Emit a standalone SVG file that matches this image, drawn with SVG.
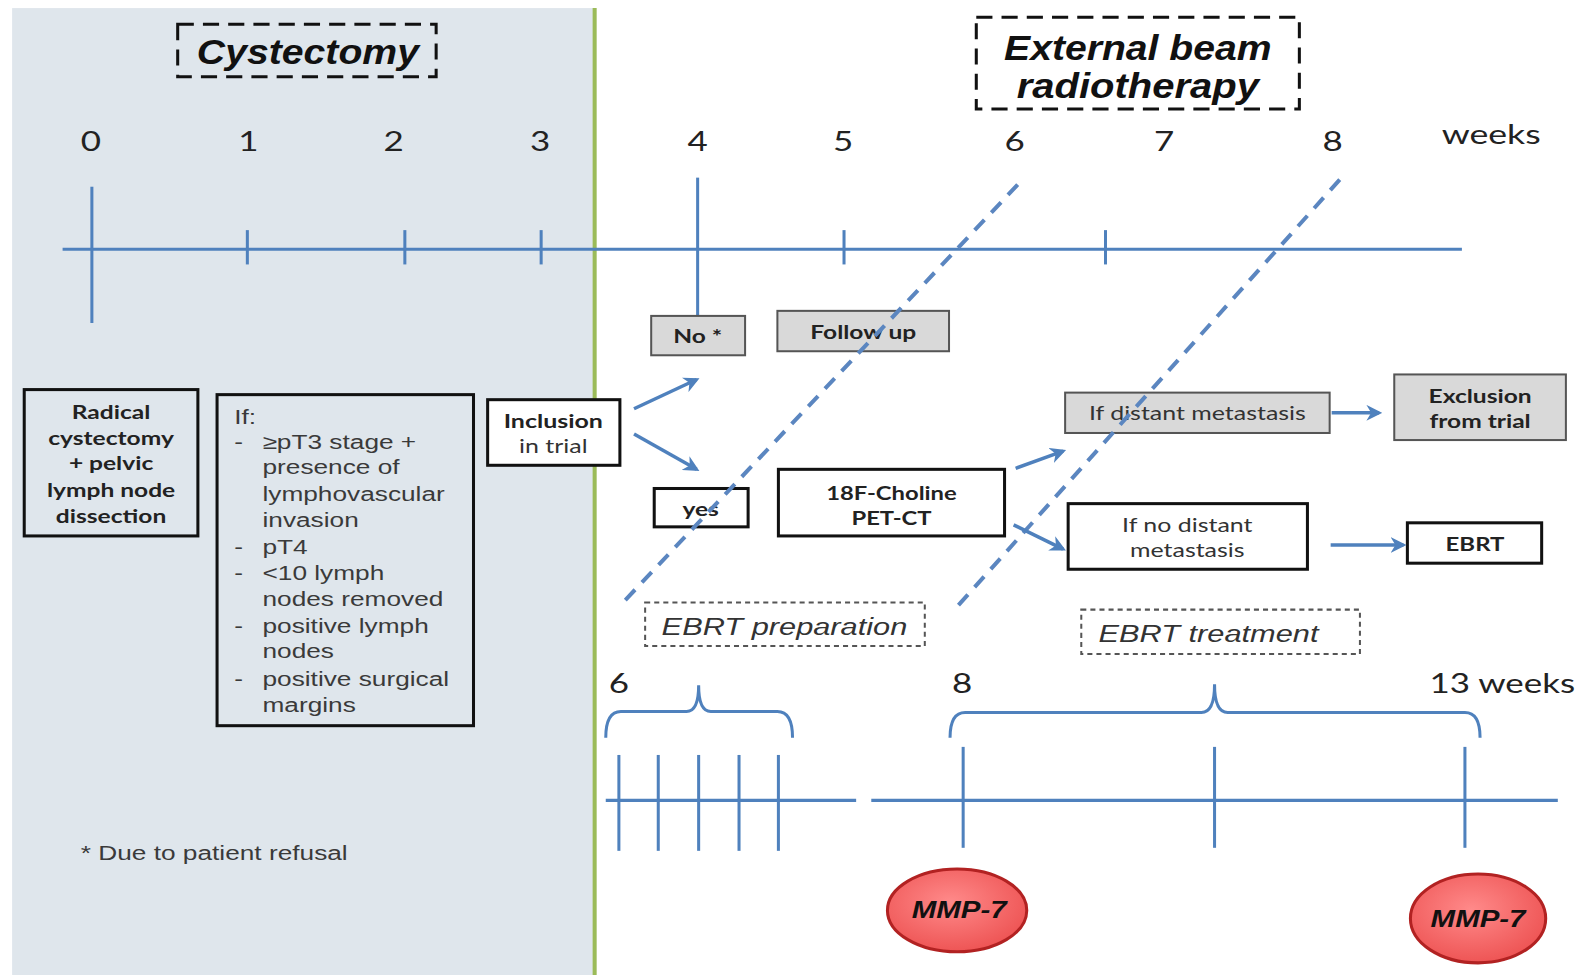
<svg xmlns="http://www.w3.org/2000/svg" width="1583" height="977" viewBox="0 0 1583 977">
<defs>
<style>
.tl{stroke:#4f81bd;stroke-width:3;fill:none}
.dash{stroke:#5b86c0;stroke-width:4;stroke-dasharray:14 10;fill:none}
.arr{stroke:#4f81bd;stroke-width:3.5;fill:none;marker-end:url(#ah)}
.gbox{fill:#d9d9d9;stroke:#555;stroke-width:2}
.wbox{fill:#fff;stroke:#111;stroke-width:3}
.tbox{fill:none;stroke:#111;stroke-width:3}
.dbox{fill:none;stroke:#111;stroke-width:3;stroke-dasharray:16 9}
.dbox2{fill:none;stroke:#555;stroke-width:2;stroke-dasharray:5 4}
.num{font-family:Lato,"Open Sans",sans-serif;font-size:26px;fill:#222;text-anchor:middle}
.bt{font-family:Lato,"Open Sans",sans-serif;font-size:19px;font-weight:bold;fill:#222;text-anchor:middle}
.nt{font-family:Lato,"Open Sans",sans-serif;font-size:19px;fill:#333;text-anchor:middle}
.lt{font-family:"Liberation Sans",Arial,sans-serif;font-size:20px;fill:#3a3a3a}
.it{font-family:"Liberation Sans",Arial,sans-serif;font-size:24px;font-style:italic;fill:#333;text-anchor:middle}
.ttl{font-family:"Liberation Sans",Arial,sans-serif;font-size:34px;font-style:italic;font-weight:bold;fill:#111;text-anchor:middle}
.mmp{font-family:"Liberation Sans",Arial,sans-serif;font-size:23px;font-style:italic;font-weight:bold;fill:#111;text-anchor:middle}
</style>
<marker id="ah" viewBox="0 0 10 10" refX="8" refY="5" markerWidth="4.5" markerHeight="4.5" orient="auto" markerUnits="strokeWidth">
<path d="M0,0 L10,5 L0,10 L3,5 z" fill="#4f81bd"/>
</marker>
<radialGradient id="rg" cx="45%" cy="40%" r="60%">
<stop offset="0" stop-color="#ff8a8a"/>
<stop offset="1" stop-color="#ee5555"/>
</radialGradient>
</defs>
<rect width="1583" height="977" fill="#fff"/>
<g transform="scale(1.0096,1.0093)">
<g id="background">
<rect x="12" y="8" width="576" height="958" fill="#dfe6ec"/>
<line x1="589" y1="8" x2="589" y2="966" stroke="#9bbb59" stroke-width="4"/>
</g>
<g id="title-cystectomy">
<rect class="dbox" x="176" y="24" width="256" height="52"/>
<text class="ttl" x="305" y="63" textLength="220" lengthAdjust="spacingAndGlyphs">Cystectomy</text>
</g>
<g id="title-ebrt">
<rect class="dbox" x="967" y="17" width="320" height="91"/>
<text class="ttl" x="1127" y="59" textLength="265" lengthAdjust="spacingAndGlyphs">External beam</text>
<text class="ttl" x="1127" y="97" textLength="240" lengthAdjust="spacingAndGlyphs">radiotherapy</text>
</g>
<g id="week-labels">
<text class="num" transform="translate(90,0) scale(1.33,1)" x="0" y="150">0</text>
<text class="num" transform="translate(246,0) scale(1.33,1)" x="0" y="150">1</text>
<text class="num" transform="translate(390,0) scale(1.33,1)" x="0" y="150">2</text>
<text class="num" transform="translate(535,0) scale(1.33,1)" x="0" y="150">3</text>
<text class="num" transform="translate(691,0) scale(1.33,1)" x="0" y="150">4</text>
<text class="num" transform="translate(835,0) scale(1.33,1)" x="0" y="150">5</text>
<text class="num" transform="translate(1005,0) scale(1.33,1)" x="0" y="150">6</text>
<text class="num" transform="translate(1153,0) scale(1.33,1)" x="0" y="150">7</text>
<text class="num" transform="translate(1320,0) scale(1.33,1)" x="0" y="150">8</text>
<text class="num" transform="translate(1477,0) scale(1.36,1)" x="0" y="143">weeks</text>
</g>
<g id="timeline-main">
<line class="tl" x1="62" y1="247" x2="1448" y2="247"/>
<line class="tl" x1="91" y1="185" x2="91" y2="320"/>
<line class="tl" x1="245" y1="228" x2="245" y2="262"/>
<line class="tl" x1="401" y1="228" x2="401" y2="262"/>
<line class="tl" x1="536" y1="228" x2="536" y2="262"/>
<line class="tl" x1="691" y1="176" x2="691" y2="322"/>
<line class="tl" x1="836" y1="228" x2="836" y2="262"/>
<line class="tl" x1="1095" y1="228" x2="1095" y2="262"/>
</g>
<g id="node-radical">
<rect class="tbox" x="24" y="386" width="172" height="145"/>
<g transform="translate(110,0) scale(1.28,1)">
<text class="bt" x="0" y="415">Radical</text>
<text class="bt" x="0" y="441">cystectomy</text>
<text class="bt" x="0" y="466">+ pelvic</text>
<text class="bt" x="0" y="492">lymph node</text>
<text class="bt" x="0" y="518">dissection</text>
</g>
</g>
<g id="node-criteria">
<rect class="tbox" x="215" y="391" width="254" height="328"/>
<g transform="translate(215,0) scale(1.3,1)">
<text class="lt" x="13" y="420">If:</text>
<text class="lt" x="13" y="445">-</text><text class="lt" x="34.6" y="445">≥pT3 stage +</text>
<text class="lt" x="34.6" y="470">presence of</text>
<text class="lt" x="34.6" y="496">lymphovascular</text>
<text class="lt" x="34.6" y="522">invasion</text>
<text class="lt" x="13" y="549">-</text><text class="lt" x="34.6" y="549">pT4</text>
<text class="lt" x="13" y="575">-</text><text class="lt" x="34.6" y="575">&lt;10 lymph</text>
<text class="lt" x="34.6" y="600">nodes removed</text>
<text class="lt" x="13" y="627">-</text><text class="lt" x="34.6" y="627">positive lymph</text>
<text class="lt" x="34.6" y="652">nodes</text>
<text class="lt" x="13" y="680">-</text><text class="lt" x="34.6" y="680">positive surgical</text>
<text class="lt" x="34.6" y="705">margins</text>
</g>
</g>
<g id="node-inclusion">
<rect class="wbox" x="483" y="396" width="131" height="65"/>
<g transform="translate(548,0) scale(1.3,1)">
<text class="bt" x="0" y="424">Inclusion</text>
<text class="nt" x="0" y="449">in trial</text>
</g>
</g>
<g id="node-no">
<rect class="gbox" x="645" y="313" width="93" height="39"/>
<text class="bt" transform="translate(691,0) scale(1.28,1)" x="0" y="340">No *</text>
</g>
<g id="node-followup">
<rect class="gbox" x="770" y="308" width="170" height="40"/>
<text class="bt" transform="translate(855,0) scale(1.28,1)" x="0" y="336">Follow up</text>
</g>
<g id="node-yes">
<rect class="wbox" x="648" y="484" width="93" height="38"/>
<text class="bt" transform="translate(694,0) scale(1.28,1)" x="0" y="511">yes</text>
</g>
<g id="node-pet">
<rect class="wbox" x="771" y="465" width="224" height="66"/>
<g transform="translate(883,0) scale(1.24,1)">
<text class="bt" x="0" y="495">18F-Choline</text>
<text class="bt" x="0" y="520">PET-CT</text>
</g>
</g>
<g id="node-distant">
<rect class="gbox" x="1055" y="389" width="262" height="40"/>
<text class="nt" transform="translate(1186,0) scale(1.3,1)" x="0" y="416">If distant metastasis</text>
</g>
<g id="node-exclusion">
<rect class="gbox" x="1381" y="371" width="170" height="65"/>
<g transform="translate(1466,0) scale(1.28,1)">
<text class="bt" x="0" y="399">Exclusion</text>
<text class="bt" x="0" y="424">from trial</text>
</g>
</g>
<g id="node-nodistant">
<rect class="wbox" x="1058" y="499" width="237" height="65"/>
<g transform="translate(1176,0) scale(1.3,1)">
<text class="nt" x="0" y="527">If no distant</text>
<text class="nt" x="0" y="552">metastasis</text>
</g>
</g>
<g id="node-ebrt">
<rect class="wbox" x="1394" y="518" width="133" height="40"/>
<text class="bt" transform="translate(1461,0) scale(1.25,1)" x="0" y="546">EBRT</text>
</g>
<g id="label-prep">
<rect class="dbox2" x="639" y="597" width="277" height="43"/>
<text class="it" transform="translate(777,0) scale(1.27,1)" x="0" y="629">EBRT preparation</text>
</g>
<g id="label-treat">
<rect class="dbox2" x="1071" y="604" width="276" height="44"/>
<text class="it" transform="translate(1197,0) scale(1.27,1)" x="0" y="636">EBRT treatment</text>
</g>
<g id="bottom-labels">
<text class="num" transform="translate(613,0) scale(1.33,1)" x="0" y="687">6</text>
<text class="num" transform="translate(953,0) scale(1.33,1)" x="0" y="687">8</text>
<text class="num" transform="translate(1488,0) scale(1.33,1)" x="0" y="687">13 weeks</text>
</g>
<g id="braces">
<path class="tl" d="M600,731 Q600,705 615,705 L680,705 Q692,705 692,679 Q692,705 704,705 L770,705 Q785,705 785,731"/>
<path class="tl" d="M941,731 Q941,706 956,706 L1190,706 Q1203,706 1203,678 Q1203,706 1216,706 L1451,706 Q1466,706 1466,731"/>
</g>
<g id="timeline-prep">
<line class="tl" x1="600" y1="793" x2="848" y2="793"/>
<line class="tl" x1="613" y1="748" x2="613" y2="843"/>
<line class="tl" x1="652" y1="748" x2="652" y2="843"/>
<line class="tl" x1="692" y1="748" x2="692" y2="843"/>
<line class="tl" x1="732" y1="748" x2="732" y2="843"/>
<line class="tl" x1="771" y1="748" x2="771" y2="843"/>
</g>
<g id="timeline-treat">
<line class="tl" x1="863" y1="793" x2="1543" y2="793"/>
<line class="tl" x1="954" y1="740" x2="954" y2="840"/>
<line class="tl" x1="1203" y1="740" x2="1203" y2="840"/>
<line class="tl" x1="1451" y1="740" x2="1451" y2="840"/>
</g>
<g id="node-mmp1">
<ellipse cx="948" cy="902" rx="69" ry="41" fill="url(#rg)" stroke="#b22222" stroke-width="3"/>
<text class="mmp" x="950" y="910" textLength="94" lengthAdjust="spacingAndGlyphs">MMP-7</text>
</g>
<g id="node-mmp2">
<ellipse cx="1464" cy="910" rx="67" ry="44" fill="url(#rg)" stroke="#b22222" stroke-width="3"/>
<text class="mmp" x="1464" y="918" textLength="94" lengthAdjust="spacingAndGlyphs">MMP-7</text>
</g>
<g id="footnote">
<text class="lt" transform="translate(80,0) scale(1.3,1)" x="0" y="852">* Due to patient refusal</text>
</g>
<g id="connectors">
<line class="dash" x1="1008" y1="183" x2="617" y2="597"/>
<line class="dash" x1="1327" y1="178" x2="949" y2="600"/>
<line class="arr" x1="628" y1="405" x2="690" y2="376"/>
<line class="arr" x1="628" y1="430" x2="690" y2="465"/>
<line class="arr" x1="1006" y1="464" x2="1053" y2="447"/>
<line class="arr" x1="1004" y1="520" x2="1053" y2="544"/>
<line class="arr" x1="1319" y1="409" x2="1366" y2="409"/>
<line class="arr" x1="1318" y1="540" x2="1390" y2="540"/>
</g>
</g>
</svg>
